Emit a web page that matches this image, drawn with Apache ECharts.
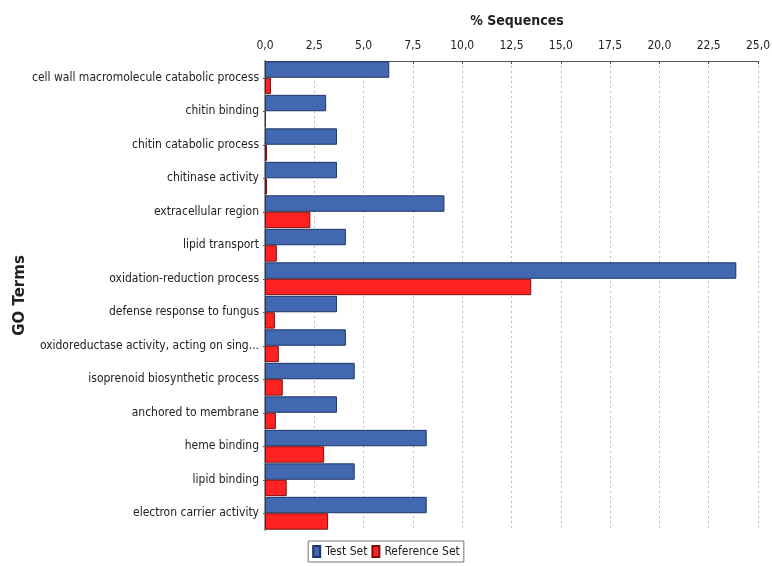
<!DOCTYPE html>
<html><head><meta charset="utf-8">
<script src="https://cdn.jsdelivr.net/npm/echarts@6/dist/echarts.min.js"></script>
<style>html,body{margin:0;padding:0;background:#fff}#c{width:772px;height:566px}</style>
</head><body><div id="c"></div>
<script>
const categories = [
  "cell wall macromolecule catabolic process",
  "chitin binding",
  "chitin catabolic process",
  "chitinase activity",
  "extracellular region",
  "lipid transport",
  "oxidation-reduction process",
  "defense response to fungus",
  "oxidoreductase activity, acting on sing...",
  "isoprenoid biosynthetic process",
  "anchored to membrane",
  "heme binding",
  "lipid binding",
  "electron carrier activity"
];
const testSet = [6.3, 3.1, 3.65, 3.65, 9.1, 4.1, 23.9, 3.65, 4.1, 4.55, 3.65, 8.2, 4.55, 8.2];
const referenceSet = [0.3, 0.05, 0.1, 0.1, 2.3, 0.6, 13.5, 0.5, 0.7, 0.9, 0.55, 3.0, 1.1, 3.2];
const xTicks = { min: 0, max: 25, interval: 2.5 };

const font = "DejaVu Sans Condensed";
const chart = echarts.init(document.getElementById('c'));
chart.setOption({
  animation: false,
  textStyle: { fontFamily: font },
  title: [
    { text: '% Sequences', left: 512, top: 9, textAlign: 'center',
      textStyle: { fontFamily: font, fontSize: 14, fontWeight: 'bold', color: '#222' } }
  ],
  legend: {
    bottom: 4, left: 'center',
    data: ['Test Set', 'Reference Set'],
    icon: 'rect', itemWidth: 7, itemHeight: 11, itemGap: 4,
    borderColor: '#777', borderWidth: 1, padding: [4, 4],
    textStyle: { fontFamily: font, fontSize: 12, color: '#222' }
  },
  grid: { left: 265, right: 14, top: 61, bottom: 36, containLabel: false, outerBoundsMode: 'none' },
  xAxis: {
    type: 'value', position: 'top',
    min: xTicks.min, max: xTicks.max, interval: xTicks.interval,
    axisLine: { show: true, lineStyle: { color: '#555', width: 1 } },
    axisTick: { show: true, inside: true, length: 3, lineStyle: { color: '#555' } },
    axisLabel: { fontFamily: font, fontSize: 12, color: '#222', margin: 9,
      formatter: v => v.toFixed(1).replace('.', ',') },
    splitLine: { show: true, lineStyle: { color: '#bbb', type: [2, 3] } }
  },
  yAxis: {
    type: 'category', data: categories, inverse: true,
    name: 'GO Terms', nameLocation: 'middle', nameGap: 237, nameRotate: 90,
    nameMoveOverlap: false,
    nameTextStyle: { fontFamily: 'DejaVu Sans', fontSize: 15, fontWeight: 'bold', color: '#222' },
    axisLine: { show: true, lineStyle: { color: '#999', width: 2 } },
    axisTick: { show: true, alignWithLabel: true, length: 2, lineStyle: { color: '#555' } },
    axisLabel: { fontFamily: font, fontSize: 12, color: '#222', margin: 6 },
    splitLine: { show: false }
  },
  series: [
    { name: 'Test Set', type: 'bar', data: testSet, barGap: '0%', barCategoryGap: '2%',
      itemStyle: { color: '#4168b0', borderColor: '#1f3566', borderWidth: 1 } },
    { name: 'Reference Set', type: 'bar', data: referenceSet,
      itemStyle: { color: '#ff2222', borderColor: '#7a1010', borderWidth: 1 } }
  ]
});
</script></body></html>
